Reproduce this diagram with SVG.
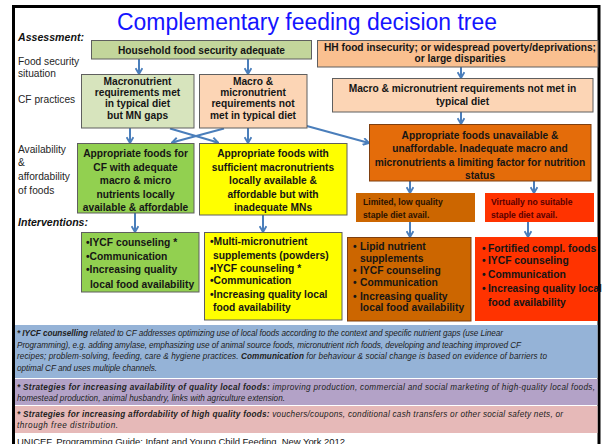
<svg xmlns="http://www.w3.org/2000/svg" width="602" height="444" viewBox="0 0 602 444">
  <defs>
    <style>
      .t { font-family: "Liberation Sans", Arial, sans-serif; fill: #151515; }
      .b { font-weight: bold; font-size: 10.2px; }
      .c { text-anchor: middle; }
      .i { font-weight: bold; font-size: 10.3px; }
      .s { font-weight: bold; font-size: 8.6px; }
      .lbl { font-size: 10.2px; fill: #262626; }
      .hd { font-size: 10.6px; font-weight: bold; font-style: italic; fill: #111; }
      .fn { font-size: 8.2px; font-style: italic; fill: #222; }
      .box { stroke: #5f5f5f; stroke-width: 1; }
      .arrow { stroke: #4a7ebb; stroke-width: 2; fill: none; marker-end: url(#ah); }
    </style>
    <marker id="ah" viewBox="0 0 8 8" refX="6.6" refY="4" markerWidth="8" markerHeight="8" markerUnits="userSpaceOnUse" orient="auto">
      <path d="M0.8,0.6 L6.6,4 L0.8,7.4" fill="none" stroke="#4a7ebb" stroke-width="1.9"/>
    </marker>
  </defs>

  <!-- slide frame -->
  <rect x="13.5" y="6.5" width="585.5" height="450" fill="#ffffff" stroke="#000" stroke-width="3"/>

  <!-- title -->
  <text class="t" x="307" y="30" text-anchor="middle" font-size="23" textLength="380" lengthAdjust="spacingAndGlyphs" style="fill:#1414ff">Complementary feeding decision tree</text>

  <!-- row labels -->
  <g id="labels">
    <text class="t hd" x="18" y="41">Assessment:</text>
    <text class="t lbl" x="18" y="64.5">Food security</text>
    <text class="t lbl" x="18" y="76.5">situation</text>
    <text class="t lbl" x="18" y="102.5">CF practices</text>
    <text class="t lbl" x="18" y="152.5">Availability</text>
    <text class="t lbl" x="18" y="166">&amp;</text>
    <text class="t lbl" x="18" y="179.5">affordability</text>
    <text class="t lbl" x="18" y="193.5">of foods</text>
    <text class="t hd" x="18" y="226">Interventions:</text>
  </g>

  <!-- connectors -->
  <g id="connectors">
    <line class="arrow" x1="139" y1="59" x2="139" y2="74"/>
    <line class="arrow" x1="248" y1="59" x2="248" y2="74"/>
    <line class="arrow" x1="130" y1="128" x2="130" y2="143"/>
    <line class="arrow" x1="248" y1="128" x2="248" y2="143"/>
    <line class="arrow" x1="170" y1="128.5" x2="218" y2="142.5"/>
    <line class="arrow" x1="224" y1="128.5" x2="172" y2="142.5"/>
    <line class="arrow" x1="305" y1="125.5" x2="369" y2="143"/>
    <line class="arrow" x1="461" y1="67" x2="461" y2="78"/>
    <line class="arrow" x1="461" y1="112" x2="461" y2="124"/>
    <line class="arrow" x1="410" y1="181" x2="410" y2="193"/>
    <line class="arrow" x1="534" y1="181" x2="534" y2="193"/>
    <line class="arrow" x1="410" y1="222" x2="410" y2="237"/>
    <line class="arrow" x1="528" y1="222" x2="528" y2="237"/>
    <line class="arrow" x1="135" y1="213" x2="135" y2="232"/>
    <line class="arrow" x1="263" y1="215" x2="263" y2="232"/>
  </g>

  <!-- assessment nodes -->
  <g id="hh-adequate">
    <rect class="box" x="91.5" y="40.5" width="220" height="18.5" fill="#c3d69b"/>
    <text class="t b c" x="201.5" y="53.5" font-size="10.6">Household food security adequate</text>
  </g>
  <g id="hh-insecure">
    <rect class="box" x="317.5" y="40.5" width="280.5" height="26.5" fill="#fac090"/>
    <text class="t b c" x="460" y="51" textLength="272" lengthAdjust="spacingAndGlyphs">HH food insecurity; or widespread  poverty/deprivations;</text>
    <text class="t b c" x="460" y="62">or large disparities</text>
  </g>
  <g id="macro-met">
    <rect class="box" x="81.5" y="74.5" width="112.5" height="53.5" fill="#d7e4bd"/>
    <text class="t b c" x="137.5" y="84.5">Macronutrient</text>
    <text class="t b c" x="137.5" y="95.5">requirements met</text>
    <text class="t b c" x="137.5" y="106.5">in typical diet</text>
    <text class="t b c" x="137.5" y="118.5">but MN gaps</text>
  </g>
  <g id="macro-not-met">
    <rect class="box" x="199.5" y="74.5" width="107.5" height="53.5" fill="#fcd5b5"/>
    <text class="t b c" x="253" y="84.5">Macro &amp;</text>
    <text class="t b c" x="253" y="95.5">micronutrient</text>
    <text class="t b c" x="253" y="106.5">requirements not</text>
    <text class="t b c" x="253" y="118.5">met in typical diet</text>
  </g>
  <g id="req-not-met">
    <rect class="box" x="332.5" y="78.5" width="260.5" height="33.5" fill="#fcd5b5"/>
    <text class="t b c" x="462.5" y="91.5">Macro &amp; micronutrient requirements  not met in</text>
    <text class="t b c" x="462.5" y="104.5">typical diet</text>
  </g>

  <!-- availability nodes -->
  <g id="foods-unavailable">
    <rect x="369.5" y="124.5" width="221.5" height="56.5" fill="#e46c0a" stroke="#7f3f0f" stroke-width="1"/>
    <text class="t b c" x="480" y="138.5">Appropriate  foods unavailable &amp;</text>
    <text class="t b c" x="480" y="152">unaffordable. Inadequate macro and</text>
    <text class="t b c" x="480" y="165.5">micronutrients a limiting factor for nutrition</text>
    <text class="t b c" x="480" y="178.5">status</text>
  </g>
  <g id="foods-adequate">
    <rect class="box" x="77.5" y="143.5" width="116.5" height="69.5" fill="#92d050"/>
    <text class="t b c" x="135.5" y="156.5">Appropriate foods for</text>
    <text class="t b c" x="135.5" y="170.5">CF with adequate</text>
    <text class="t b c" x="135.5" y="183.5">macro &amp; micro</text>
    <text class="t b c" x="135.5" y="197.5">nutrients locally</text>
    <text class="t b c" x="135.5" y="211">available &amp; affordable</text>
  </g>
  <g id="foods-mn-gap">
    <rect class="box" x="199.5" y="143.5" width="147.5" height="71.5" fill="#ffff00"/>
    <text class="t b c" x="273" y="156.5">Appropriate  foods with</text>
    <text class="t b c" x="273" y="170.5">sufficient  macronutrients</text>
    <text class="t b c" x="273" y="183.5">locally available &amp;</text>
    <text class="t b c" x="273" y="197.5">affordable  but with</text>
    <text class="t b c" x="273" y="211">inadequate MNs</text>
  </g>
  <g id="limited-staple">
    <rect x="356" y="193" width="119" height="29" fill="#cc6600"/>
    <text class="t s" x="363" y="205" style="fill:#2a1200">Limited, low quality</text>
    <text class="t s" x="363" y="217.5" style="fill:#2a1200">staple diet avail.</text>
  </g>
  <g id="no-staple">
    <rect x="485" y="193" width="109" height="29" fill="#ff3300"/>
    <text class="t s" x="491" y="205" style="fill:#5a0000">Virtually no suitable</text>
    <text class="t s" x="491" y="217.5" style="fill:#5a0000">staple diet avail.</text>
  </g>

  <!-- intervention nodes -->
  <g id="int-adequate">
    <rect class="box" x="81.5" y="232.5" width="117.5" height="59.5" fill="#92d050"/>
    <text class="t i" x="86" y="245.5">•IYCF counseling *</text>
    <text class="t i" x="86" y="259.5">•Communication</text>
    <text class="t i" x="86" y="272.5">•Increasing quality</text>
    <text class="t i" x="90" y="287.5">local food availability</text>
  </g>
  <g id="int-mn-gap">
    <rect class="box" x="204.5" y="232.5" width="137.5" height="87.5" fill="#ffff00"/>
    <text class="t i" x="210" y="244.5">•Multi-micronutrient</text>
    <text class="t i" x="213" y="258.5">supplements  (powders)</text>
    <text class="t i" x="210" y="271.5">•IYCF counseling *</text>
    <text class="t i" x="210" y="283.5">•Communication</text>
    <text class="t i" x="210" y="297.5">•Increasing quality local</text>
    <text class="t i" x="213" y="310.5">food availability</text>
  </g>
  <g id="int-limited">
    <rect x="347.5" y="237.5" width="123.5" height="83.5" fill="#cc6600" stroke="#7f3f0f" stroke-width="1"/>
    <text class="t i" x="353" y="249.5">•</text><text class="t i" x="360" y="249.5">Lipid nutrient</text>
    <text class="t i" x="360" y="261.5">supplements</text>
    <text class="t i" x="353" y="273.5">•</text><text class="t i" x="360" y="273.5">IYCF counseling</text>
    <text class="t i" x="353" y="285.5">•</text><text class="t i" x="360" y="285.5">Communication</text>
    <text class="t i" x="353" y="299.5">•</text><text class="t i" x="360" y="299.5">Increasing quality</text>
    <text class="t i" x="360" y="310.5">local food availability</text>
  </g>
  <g id="int-none">
    <rect x="475" y="237" width="123" height="84" fill="#ff3300"/>
    <text class="t i" x="482" y="251.5">•</text><text class="t i" x="488" y="251.5">Fortified compl. foods</text>
    <text class="t i" x="482" y="263.5">•</text><text class="t i" x="488" y="263.5">IYCF counseling</text>
    <text class="t i" x="482" y="277.5">•</text><text class="t i" x="488" y="277.5">Communication</text>
    <text class="t i" x="482" y="291.5">•</text><text class="t i" x="488" y="291.5">Increasing quality local</text>
    <text class="t i" x="488" y="305.5">food availability</text>
  </g>

  <!-- footnotes -->
  <g id="notes">
    <rect x="15" y="325" width="582.5" height="53" fill="#95b3d7"/>
    <rect x="15" y="379" width="582.5" height="26" fill="#b3a2c7"/>
    <rect x="15" y="406" width="582.5" height="27" fill="#e6b9b8"/>
    <text class="t fn" x="17" y="336" textLength="486" lengthAdjust="spacing"><tspan font-weight="bold">* IYCF counselling</tspan> related to CF addresses optimizing use of local foods according to the context and specific nutrient gaps (use Linear</text>
    <text class="t fn" x="17" y="347.5" textLength="504" lengthAdjust="spacing">Programming), e.g. adding amylase, emphasizing use of animal source foods, micronutrient rich foods, developing and teaching improved CF</text>
    <text class="t fn" x="17" y="359" textLength="530" lengthAdjust="spacing">recipes; problem-solving, feeding, care &amp; hygiene practices. <tspan font-weight="bold">Communication</tspan> for behaviour &amp; social change is based on evidence of barriers to</text>
    <text class="t fn" x="17" y="370.5" textLength="140" lengthAdjust="spacing">optimal CF and uses multiple channels.</text>
    <text class="t fn" x="17" y="389.5" textLength="578" lengthAdjust="spacing"><tspan font-weight="bold">* Strategies for increasing availability of quality local foods:</tspan> improving production, commercial and social marketing of high-quality local foods,</text>
    <text class="t fn" x="17" y="400.5" textLength="268" lengthAdjust="spacing">homestead production, animal husbandry, links with agriculture extension.</text>
    <text class="t fn" x="17" y="416.5" textLength="546" lengthAdjust="spacing"><tspan font-weight="bold">* Strategies for increasing affordability of high quality foods:</tspan> vouchers/coupons, conditional cash transfers or other social safety nets, or</text>
    <text class="t fn" x="17" y="428" textLength="101" lengthAdjust="spacing">through free distribution.</text>
    <text class="t" x="17" y="445" font-size="9.5" textLength="328" lengthAdjust="spacing">UNICEF, Programming Guide: Infant and Young Child Feeding. New York 2012</text>
  </g>
</svg>
